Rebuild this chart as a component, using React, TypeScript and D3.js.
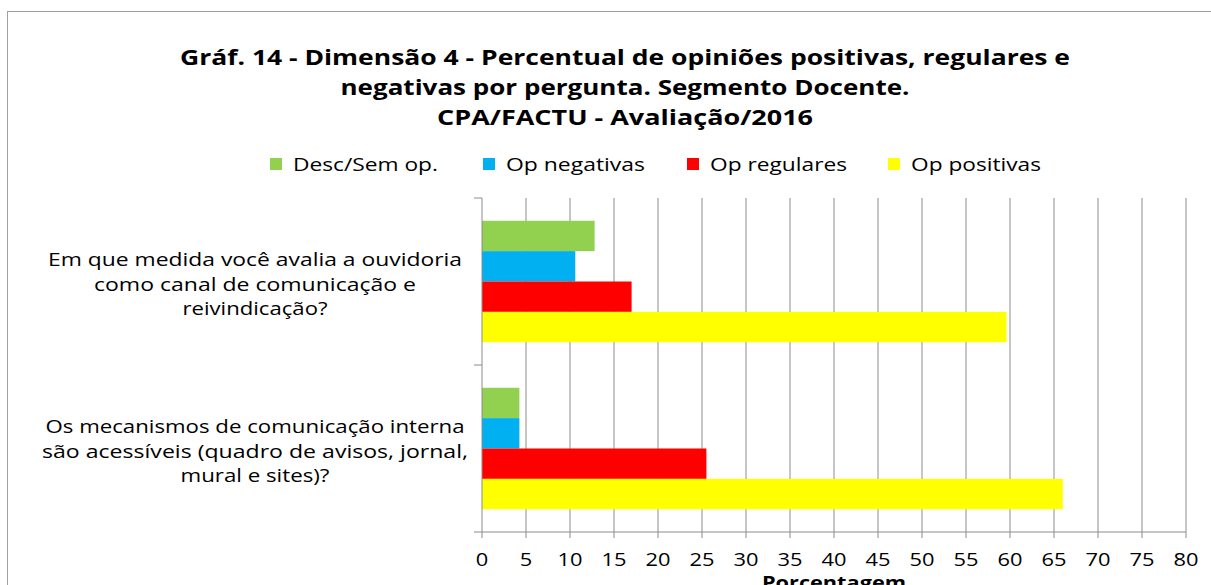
import React from "react";
import * as d3 from "d3";

const titleLines = [
  "Gráf. 14 - Dimensão 4 - Percentual de opiniões positivas, regulares e",
  "negativas por pergunta. Segmento Docente.",
  "CPA/FACTU - Avaliação/2016",
];
const categories = ["q1", "q2"];
const categoryLabels = [
  ["Em que medida você avalia a ouvidoria", "como canal de comunicação e", "reivindicação?"],
  ["Os mecanismos de comunicação interna", "são acessíveis (quadro de avisos, jornal,", "mural e sites)?"],
];
const seriesNames = ["Desc/Sem op.", "Op negativas", "Op regulares", "Op positivas"];
const seriesColors = ["#92D050", "#00B0F0", "#FF0000", "#FFFF00"];
const descSemOp = [12.8, 4.25];
const opNegativas = [10.6, 4.25];
const opRegulares = [17.0, 25.5];
const opPositivas = [59.6, 66.0];
const seriesValues = [descSemOp, opNegativas, opRegulares, opPositivas];
const xTicks = d3.range(0, 81, 5);
const xTitle = "Porcentagem";

const FONT = "'Open Sans', 'DejaVu Sans', sans-serif";

// measured text widths in the reference (to emulate its wider typeface)
const titleWidths = [890, 569, 376];
const labelWidths = [
  [414, 322, 145],
  [419, 426, 149],
];
const legendWidths = [145, 139, 137, 130];

export default function App() {
  const W = 1211, H = 585;
  const left = 482, right = 1186, top = 198, bottom = 532;
  const x = d3.scaleLinear().domain([0, 80]).range([left, right]);
  const y = d3.scaleBand<string>().domain(categories).range([top, bottom]).padding(0);
  const inner = d3
    .scaleBand<number>()
    .domain(d3.range(seriesNames.length))
    .range([0, y.bandwidth()])
    .paddingInner(0)
    .paddingOuter(0.75);

  const legendX = [270, 483, 687, 888];
  const grid = "#8c8c8c";

  return (
    <svg width={W} height={H} style={{ position: "absolute", left: 0, top: 0 }} fontFamily={FONT}>
      <rect x={0} y={0} width={W} height={H} fill="#fff" />
      <rect x={7.5} y={11.5} width={W + 20} height={H + 20} fill="none" stroke="#a0a0a0" />
      {titleLines.map((t, i) => (
        <text
          key={i}
          x={625}
          y={57 + i * 30}
          textAnchor="middle"
          dominantBaseline="central"
          fontSize={21}
          fontWeight="bold"
          fill="#000"
          textLength={titleWidths[i]}
          lengthAdjust="spacingAndGlyphs"
        >
          {t}
        </text>
      ))}
      {seriesNames.map((n, i) => (
        <g key={n}>
          <rect x={legendX[i]} y={158} width={12} height={12} fill={seriesColors[i]} />
          <text
            x={legendX[i] + 23}
            y={164}
            dominantBaseline="central"
            fontSize={18}
            fill="#000"
            textLength={legendWidths[i]}
            lengthAdjust="spacingAndGlyphs"
          >
            {n}
          </text>
        </g>
      ))}
      {xTicks.map((t) => (
        <g key={t}>
          {t > 0 && <line x1={x(t)} x2={x(t)} y1={top} y2={bottom} stroke={grid} strokeWidth={1} />}
          <line x1={x(t)} x2={x(t)} y1={bottom} y2={bottom + 6} stroke={grid} />
          <text
            x={x(t)}
            y={559}
            textAnchor="middle"
            dominantBaseline="central"
            fontSize={18}
            fill="#000"
            textLength={String(t).length * 12.5}
            lengthAdjust="spacingAndGlyphs"
          >
            {t}
          </text>
        </g>
      ))}
      {categories.map((c, ci) => (
        <g key={c}>
          {seriesValues.map((vals, si) => (
            <rect
              key={si}
              x={x(0)}
              y={(y(c) as number) + (inner(si) as number)}
              width={x(vals[ci]) - x(0)}
              height={inner.bandwidth()}
              fill={seriesColors[si]}
            />
          ))}
          {categoryLabels[ci].map((l, li) => (
            <text
              key={li}
              x={255}
              y={(y(c) as number) + y.bandwidth() / 2 - 24.5 + li * 24.5 + 2}
              textAnchor="middle"
              dominantBaseline="central"
              fontSize={18}
              fill="#000"
              textLength={labelWidths[ci][li]}
              lengthAdjust="spacingAndGlyphs"
            >
              {l}
            </text>
          ))}
        </g>
      ))}
      <line x1={left} x2={left} y1={top} y2={bottom} stroke={grid} />
      <line x1={left} x2={right} y1={bottom} y2={bottom} stroke={grid} />
      {[top, top + y.bandwidth(), bottom].map((v, i) => (
        <line key={i} x1={left - 8} x2={left} y1={v} y2={v} stroke={grid} />
      ))}
      <text
        x={(left + right) / 2}
        y={582}
        textAnchor="middle"
        dominantBaseline="central"
        fontSize={18}
        fontWeight="bold"
        fill="#000"
        textLength={144}
        lengthAdjust="spacingAndGlyphs"
      >
        {xTitle}
      </text>
    </svg>
  );
}
